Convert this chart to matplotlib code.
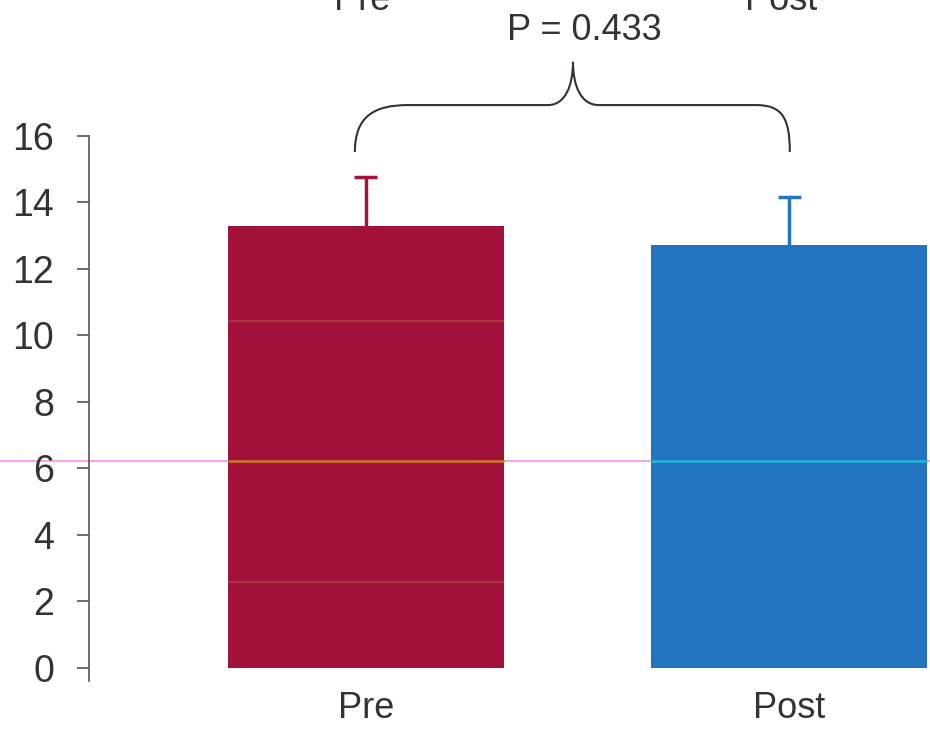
import matplotlib.pyplot as plt
from matplotlib.path import Path
from matplotlib.patches import PathPatch

plt.rcParams['font.family'] = ['Liberation Sans', 'DejaVu Sans']

groups = ['Pre', 'Post']
means = [13.3, 12.72]
errors = [1.47, 1.45]
bar_colors = ['#a3123b', '#2273c0']
p_label = 'P = 0.433'

fig = plt.figure(figsize=(9.3, 7.29), dpi=100)
ax = fig.add_axes([0, 0, 1, 1])
ax.set_xlim(-0.864, 1.332)
ax.set_ylim(-1.835, 20.09)

x = list(range(len(groups)))
ax.bar(x, means, width=0.652, color=bar_colors, zorder=2)
# upper error bars only, cap on top
for xi, m, e, c in zip(x, means, errors, bar_colors):
    ax.vlines(xi, m, m + e, color=c, lw=2.5, zorder=3)
    ax.hlines(m + e, xi - 0.027, xi + 0.027, color=c, lw=2.5, zorder=3)

# faint streaks across the plot
ax.axhline(6.23, color='#f4a6f0', lw=1.5, zorder=1)
ax.hlines(6.23, -0.326, 0.326, color='#c9702a', lw=2, zorder=3)
ax.hlines(6.23, 0.674, 1.326, color='#22b0d8', lw=2, zorder=3)
ax.hlines([10.45, 2.6], -0.326, 0.326, color='#b04a3a', lw=1.2, zorder=3, alpha=0.8)

# y axis
for s in ['top', 'right', 'bottom']:
    ax.spines[s].set_visible(False)
ax.spines['left'].set_position(('data', -0.654))
ax.spines['left'].set_bounds(-0.4, 16)
ax.spines['left'].set_color('#555555')
ax.spines['left'].set_linewidth(1.2)
ax.set_yticks(range(0, 17, 2))
ax.tick_params(axis='y', direction='out', length=9, width=1.2, color='#555555',
               labelsize=27, labelcolor='#333333', pad=16)
ax.set_xticks([])

# group labels below the bars
for xi, g in zip(x, groups):
    ax.text(xi, -1.5, g, ha='center', va='baseline', fontsize=26, color='#333333')

# group labels cut off at the top
ax.text(-0.01, 19.8, 'Pre', ha='center', va='baseline', fontsize=26, color='#333333')
ax.text(0.98, 19.8, 'Post', ha='center', va='baseline', fontsize=26, color='#333333')

# curly brace joining the two bars
xl, xr, xm = -0.026, 1.001, 0.489
y0, y1, y2 = 15.52, 16.93, 18.23
verts = [
    (xl, y0), (xl, 16.6), (0.02, y1), (0.1, y1),
    (0.43, y1),
    (0.47, y1), (xm, 17.5), (xm, y2),
    (xm, 17.5), (0.508, y1), (0.55, y1),
    (0.92, y1),
    (0.98, y1), (xr, 16.6), (xr, y0),
]
codes = [Path.MOVETO, Path.CURVE4, Path.CURVE4, Path.CURVE4,
         Path.LINETO,
         Path.CURVE4, Path.CURVE4, Path.CURVE4,
         Path.CURVE4, Path.CURVE4, Path.CURVE4,
         Path.LINETO,
         Path.CURVE4, Path.CURVE4, Path.CURVE4]
ax.add_patch(PathPatch(Path(verts, codes), fill=False, edgecolor='#3a3030', lw=1.5))
ax.text(0.515, 18.65, p_label, ha='center', va='bottom', fontsize=26, color='#333333')

fig.savefig('out.png', dpi=100)
